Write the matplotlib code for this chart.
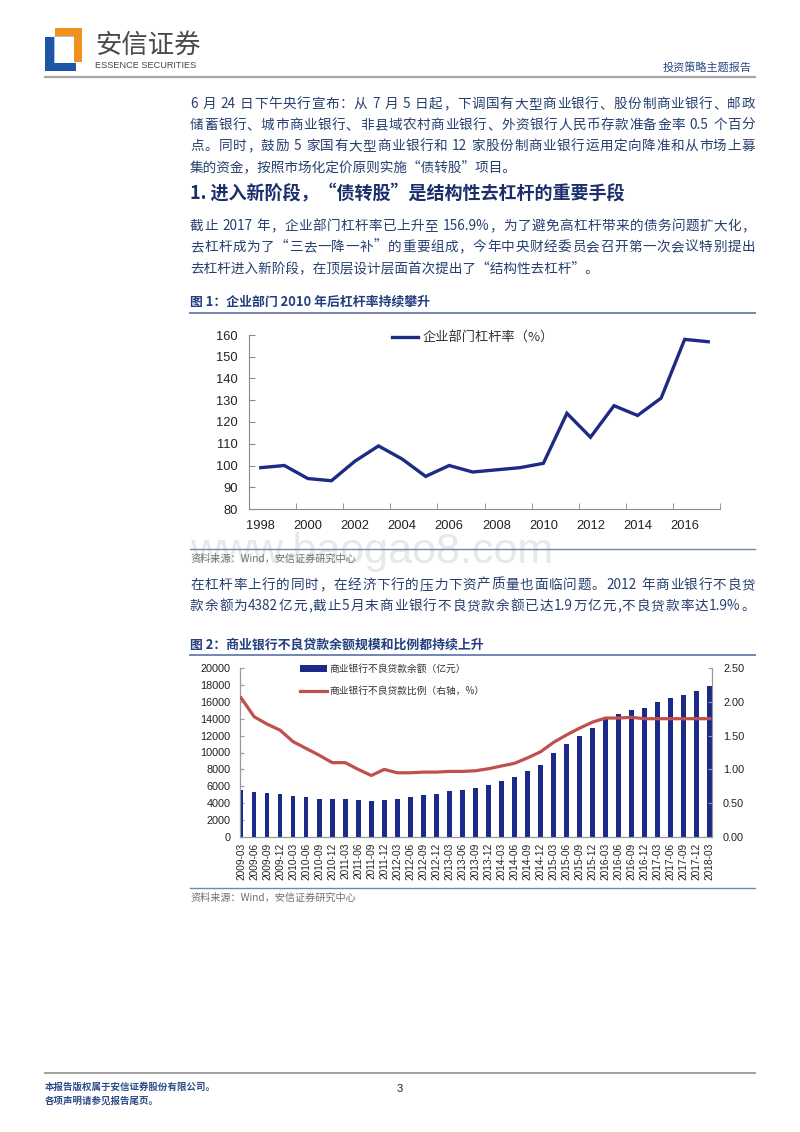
import re
import numpy as np
import matplotlib
matplotlib.use("Agg")
import matplotlib.pyplot as plt
from matplotlib.patches import Rectangle
from matplotlib.lines import Line2D

CN = ['Noto Sans CJK SC', 'DejaVu Sans']
NUM = ['Liberation Sans', 'DejaVu Sans']
plt.rcParams['font.family'] = CN

W, H = 800, 1132

# ---- data: chart 1 (corporate leverage, %)
years = ['1998', '1999', '2000', '2001', '2002', '2003', '2004', '2005', '2006', '2007',
         '2008', '2009', '2010', '2011', '2012', '2013', '2014', '2015', '2016', '2017']
leverage = [99, 100, 94, 93, 102, 109, 103, 95, 100, 97,
            98, 99, 101, 124, 113, 127.5, 123, 131, 158, 156.9]

# ---- data: chart 2 (NPL balance, 亿元, and NPL ratio, %)
quarters = ['2009-03', '2009-06', '2009-09', '2009-12', '2010-03', '2010-06', '2010-09', '2010-12',
            '2011-03', '2011-06', '2011-09', '2011-12', '2012-03', '2012-06', '2012-09', '2012-12',
            '2013-03', '2013-06', '2013-09', '2013-12', '2014-03', '2014-06', '2014-09', '2014-12',
            '2015-03', '2015-06', '2015-09', '2015-12', '2016-03', '2016-06', '2016-09', '2016-12',
            '2017-03', '2017-06', '2017-09', '2017-12', '2018-03']
npl_balance = [5600, 5330, 5210, 5130, 4850, 4690, 4460, 4460, 4460, 4340, 4220, 4420, 4540,
               4690, 4930, 5090, 5400, 5520, 5800, 6110, 6590, 7060, 7810, 8560, 9980, 11050,
               11990, 12900, 14080, 14520, 15070, 15270, 15940, 16490, 16840, 17240, 17870]
npl_ratio = [2.06, 1.78, 1.67, 1.58, 1.41, 1.31, 1.21, 1.10, 1.10, 1.00, 0.91, 1.00, 0.95,
             0.95, 0.96, 0.96, 0.97, 0.97, 0.98, 1.01, 1.05, 1.09, 1.17, 1.26, 1.40, 1.51,
             1.61, 1.70, 1.76, 1.76, 1.77, 1.75, 1.75, 1.75, 1.75, 1.75, 1.75]

para1 = ["6 月 24 日下午央行宣布：从 7 月 5 日起，下调国有大型商业银行、股份制商业银行、邮政",
         "储蓄银行、城市商业银行、非县域农村商业银行、外资银行人民币存款准备金率 0.5 个百分",
         "点。同时，鼓励 5 家国有大型商业银行和 12 家股份制商业银行运用定向降准和从市场上募",
         "集的资金，按照市场化定价原则实施“债转股”项目。"]
para2 = ["截止 2017 年，企业部门杠杆率已上升至 156.9%，为了避免高杠杆带来的债务问题扩大化，",
         "去杠杆成为了“三去一降一补”的重要组成，今年中央财经委员会召开第一次会议特别提出",
         "去杠杆进入新阶段，在顶层设计层面首次提出了“结构性去杠杆”。"]
para3 = ["在杠杆率上行的同时，在经济下行的压力下资产质量也面临问题。2012 年商业银行不良贷",
         "款余额为4382亿元,截止5月末商业银行不良贷款余额已达1.9万亿元,不良贷款率达1.9%。"]

BODY = '#27406f'
NAVY = '#1c2f6c'
RULE = '#7186b3'

fig = plt.figure(figsize=(8, 11.32), dpi=100)
renderer = fig.canvas.get_renderer()


def fy(y):
    return 1 - y / H


def line_at(x0, x1, y, color, lw):
    fig.add_artist(Line2D([x0 / W, x1 / W], [fy(y), fy(y)], color=color, lw=lw))


def box(x0, y0, x1, y1, color):
    # rectangle given in page pixels, top-left origin
    fig.add_artist(Rectangle((x0 / W, fy(y1)), (x1 - x0) / W, (y1 - y0) / H, color=color, lw=0))


def text_line(s, y, full=True, x0=190, x1=755, size=9.8, color=BODY):
    if not full:
        fig.text(x0 / W, fy(y), s, fontsize=size, color=color, va='center', family=CN)
        return
    toks = []
    for m in re.finditer(r'[!-~]+|[^\x20-\x7e]', s):
        toks.append((m.group(), m.start() > 0 and s[m.start() - 1] == ' '))
    objs = [fig.text(0, fy(y), t, fontsize=size, color=color, va='center', family=CN) for t, _ in toks]
    widths = [o.get_window_extent(renderer).width for o in objs]
    sp = 0.3 * size * 100 / 72
    extra = sum(sp for _, b in toks if b)
    gap = (x1 - x0 - sum(widths) - extra) / (len(toks) - 1)
    x = x0
    for o, w, (t, b) in zip(objs, widths, toks):
        if b:
            x += sp
        o.set_x(x / W)
        x += w + gap


# ---- header (logo + title)
box(45, 37, 54, 71, '#1f55a5')
box(45, 63, 76, 71, '#1f55a5')
box(55, 28, 82, 36, '#f0901e')
box(74, 28, 82, 62, '#f0901e')
box(54, 36, 74, 37.2, '#a9c1e6')
box(54, 36, 55.2, 63, '#a9c1e6')
fig.text(95 / W, fy(45), '安信证券', fontsize=19, color='#4a4a4a', va='center', family=CN)
fig.text(95 / W, fy(66), 'ESSENCE SECURITIES', fontsize=6.6, color='#444444', va='center', family=NUM)
fig.text(752 / W, fy(68), '投资策略主题报告', fontsize=8, color='#2d4a86', va='center', ha='right', family=CN)
line_at(45, 755, 77, '#a6a6a6', 1.6)

# ---- body text
for i, s in enumerate(para1):
    text_line(s, 104 + 21 * i, full=i < 3)
fig.text(190 / W, fy(194), '1. 进入新阶段，“债转股”是结构性去杠杆的重要手段', fontsize=13,
         weight='bold', color=NAVY, va='center', family=CN)
for i, s in enumerate(para2):
    text_line(s, 226 + 21 * i, full=i < 2)

fig.text(190 / W, fy(302), '图 1：企业部门 2010 年后杠杆率持续攀升', fontsize=9.3, weight='bold',
         color='#243f80', va='center', family=CN)
line_at(190, 755, 313, RULE, 1.4)

fig.text(190 / W, fy(563), 'www.baogao8.com', fontsize=31, color='#e8e8e8', va='baseline',
         family=NUM, zorder=0)

# ---- chart 1
ax1 = fig.add_axes([249 / W, fy(509), (720 - 249) / W, (509 - 335) / H])
ax1.patch.set_alpha(0)
x1 = np.arange(len(years))
ax1.plot(x1, leverage, color='#1e2b82', lw=2.4, label='企业部门杠杆率（%）', solid_joinstyle='miter')
ax1.set_xlim(-0.5, len(years) - 0.5)
ax1.set_ylim(80, 160)
ax1.set_yticks(range(80, 161, 10))
ax1.set_xticks(x1[::2])
ax1.set_xticklabels(years[::2])
ax1.set_xticks(np.arange(-0.5, len(years), 2), minor=True)
ax1.tick_params(axis='x', which='major', length=0, pad=8)
ax1.tick_params(axis='x', which='minor', direction='in', length=4, color='#888888')
ax1.tick_params(axis='y', direction='in', length=4, color='#888888', pad=8)
for lab in ax1.get_xticklabels() + ax1.get_yticklabels():
    lab.set_family(NUM)
    lab.set_fontsize(9.3)
    lab.set_color('#222222')
for side in ('top', 'right'):
    ax1.spines[side].set_visible(False)
for side in ('left', 'bottom'):
    ax1.spines[side].set_color('#8c8c8c')
    ax1.spines[side].set_linewidth(0.8)
ax1.legend(loc='center left', bbox_to_anchor=(392 / W, fy(338)), bbox_transform=fig.transFigure,
           frameon=False, borderpad=0, borderaxespad=0, handlelength=2.0, handletextpad=0.3,
           prop={'family': CN, 'size': 9.5}, labelcolor='#333333')

line_at(190, 755, 549, RULE, 1.0)
fig.text(190 / W, fy(559), '资料来源：Wind，安信证券研究中心', fontsize=7.3, style='italic',
         color='#707070', va='center', family=CN)

for i, s in enumerate(para3):
    text_line(s, 585 + 21 * i)

fig.text(190 / W, fy(645), '图 2：商业银行不良贷款余额规模和比例都持续上升', fontsize=9.3, weight='bold',
         color='#243f80', va='center', family=CN)
line_at(190, 755, 655, RULE, 1.4)

# ---- chart 2
ax2 = fig.add_axes([240 / W, fy(837), (712 - 240) / W, (837 - 668) / H])
x2 = np.arange(len(quarters))
bars = ax2.bar(x2, npl_balance, width=0.36, color='#1b2a88', label='商业银行不良贷款余额（亿元）', zorder=2)
ax2.set_xlim(-0.08, len(quarters) - 0.83)
ax2.set_ylim(0, 20000)
ax2.set_yticks(range(0, 20001, 2000))
ax2.set_xticks(x2)
ax2.set_xticklabels(quarters, rotation=90)
ax2.tick_params(axis='x', length=0, pad=4)
ax2.tick_params(axis='y', direction='in', length=3, color='#999999', pad=7)
ax3 = ax2.twinx()
line, = ax3.plot(x2, npl_ratio, color='#bf504c', lw=2.3, label='商业银行不良贷款比例（右轴，%）', zorder=3)
ax3.set_ylim(0, 2.5)
ax3.set_yticks(np.arange(0, 2.51, 0.5))
ax3.set_yticklabels(['%.2f' % v for v in np.arange(0, 2.51, 0.5)])
ax3.tick_params(axis='y', direction='in', length=3, color='#999999', pad=8)
for ax in (ax2, ax3):
    ax.spines['top'].set_visible(False)
    for side in ('left', 'right', 'bottom'):
        ax.spines[side].set_color('#9a9a9a')
        ax.spines[side].set_linewidth(0.8)
for lab in ax2.get_yticklabels() + ax3.get_yticklabels():
    lab.set_family(NUM)
    lab.set_fontsize(7.8)
    lab.set_color('#222222')
for lab in ax2.get_xticklabels():
    lab.set_family(NUM)
    lab.set_fontsize(7.3)
    lab.set_color('#222222')
ax3.legend([bars, line], [bars.get_label(), line.get_label()], loc='upper left',
           bbox_to_anchor=(300 / W, fy(664)), bbox_transform=fig.transFigure, frameon=False,
           borderpad=0, borderaxespad=0, handlelength=2.8, handletextpad=0.2, labelspacing=1.25,
           prop={'family': CN, 'size': 7}, labelcolor='#333333')

line_at(190, 755, 888, RULE, 1.0)
fig.text(190 / W, fy(898), '资料来源：Wind，安信证券研究中心', fontsize=7.3, style='italic',
         color='#707070', va='center', family=CN)

# ---- footer
line_at(45, 755, 1073, '#9a9a9a', 1.3)
fig.text(45 / W, fy(1087), '本报告版权属于安信证券股份有限公司。', fontsize=6.8, weight='bold',
         color='#2d4a86', va='center', family=CN)
fig.text(45 / W, fy(1101), '各项声明请参见报告尾页。', fontsize=6.8, weight='bold',
         color='#2d4a86', va='center', family=CN)
fig.text(400 / W, fy(1089), '3', fontsize=8, color='#222222', va='center', ha='center', family=NUM)

fig.savefig('out.png', dpi=100)
